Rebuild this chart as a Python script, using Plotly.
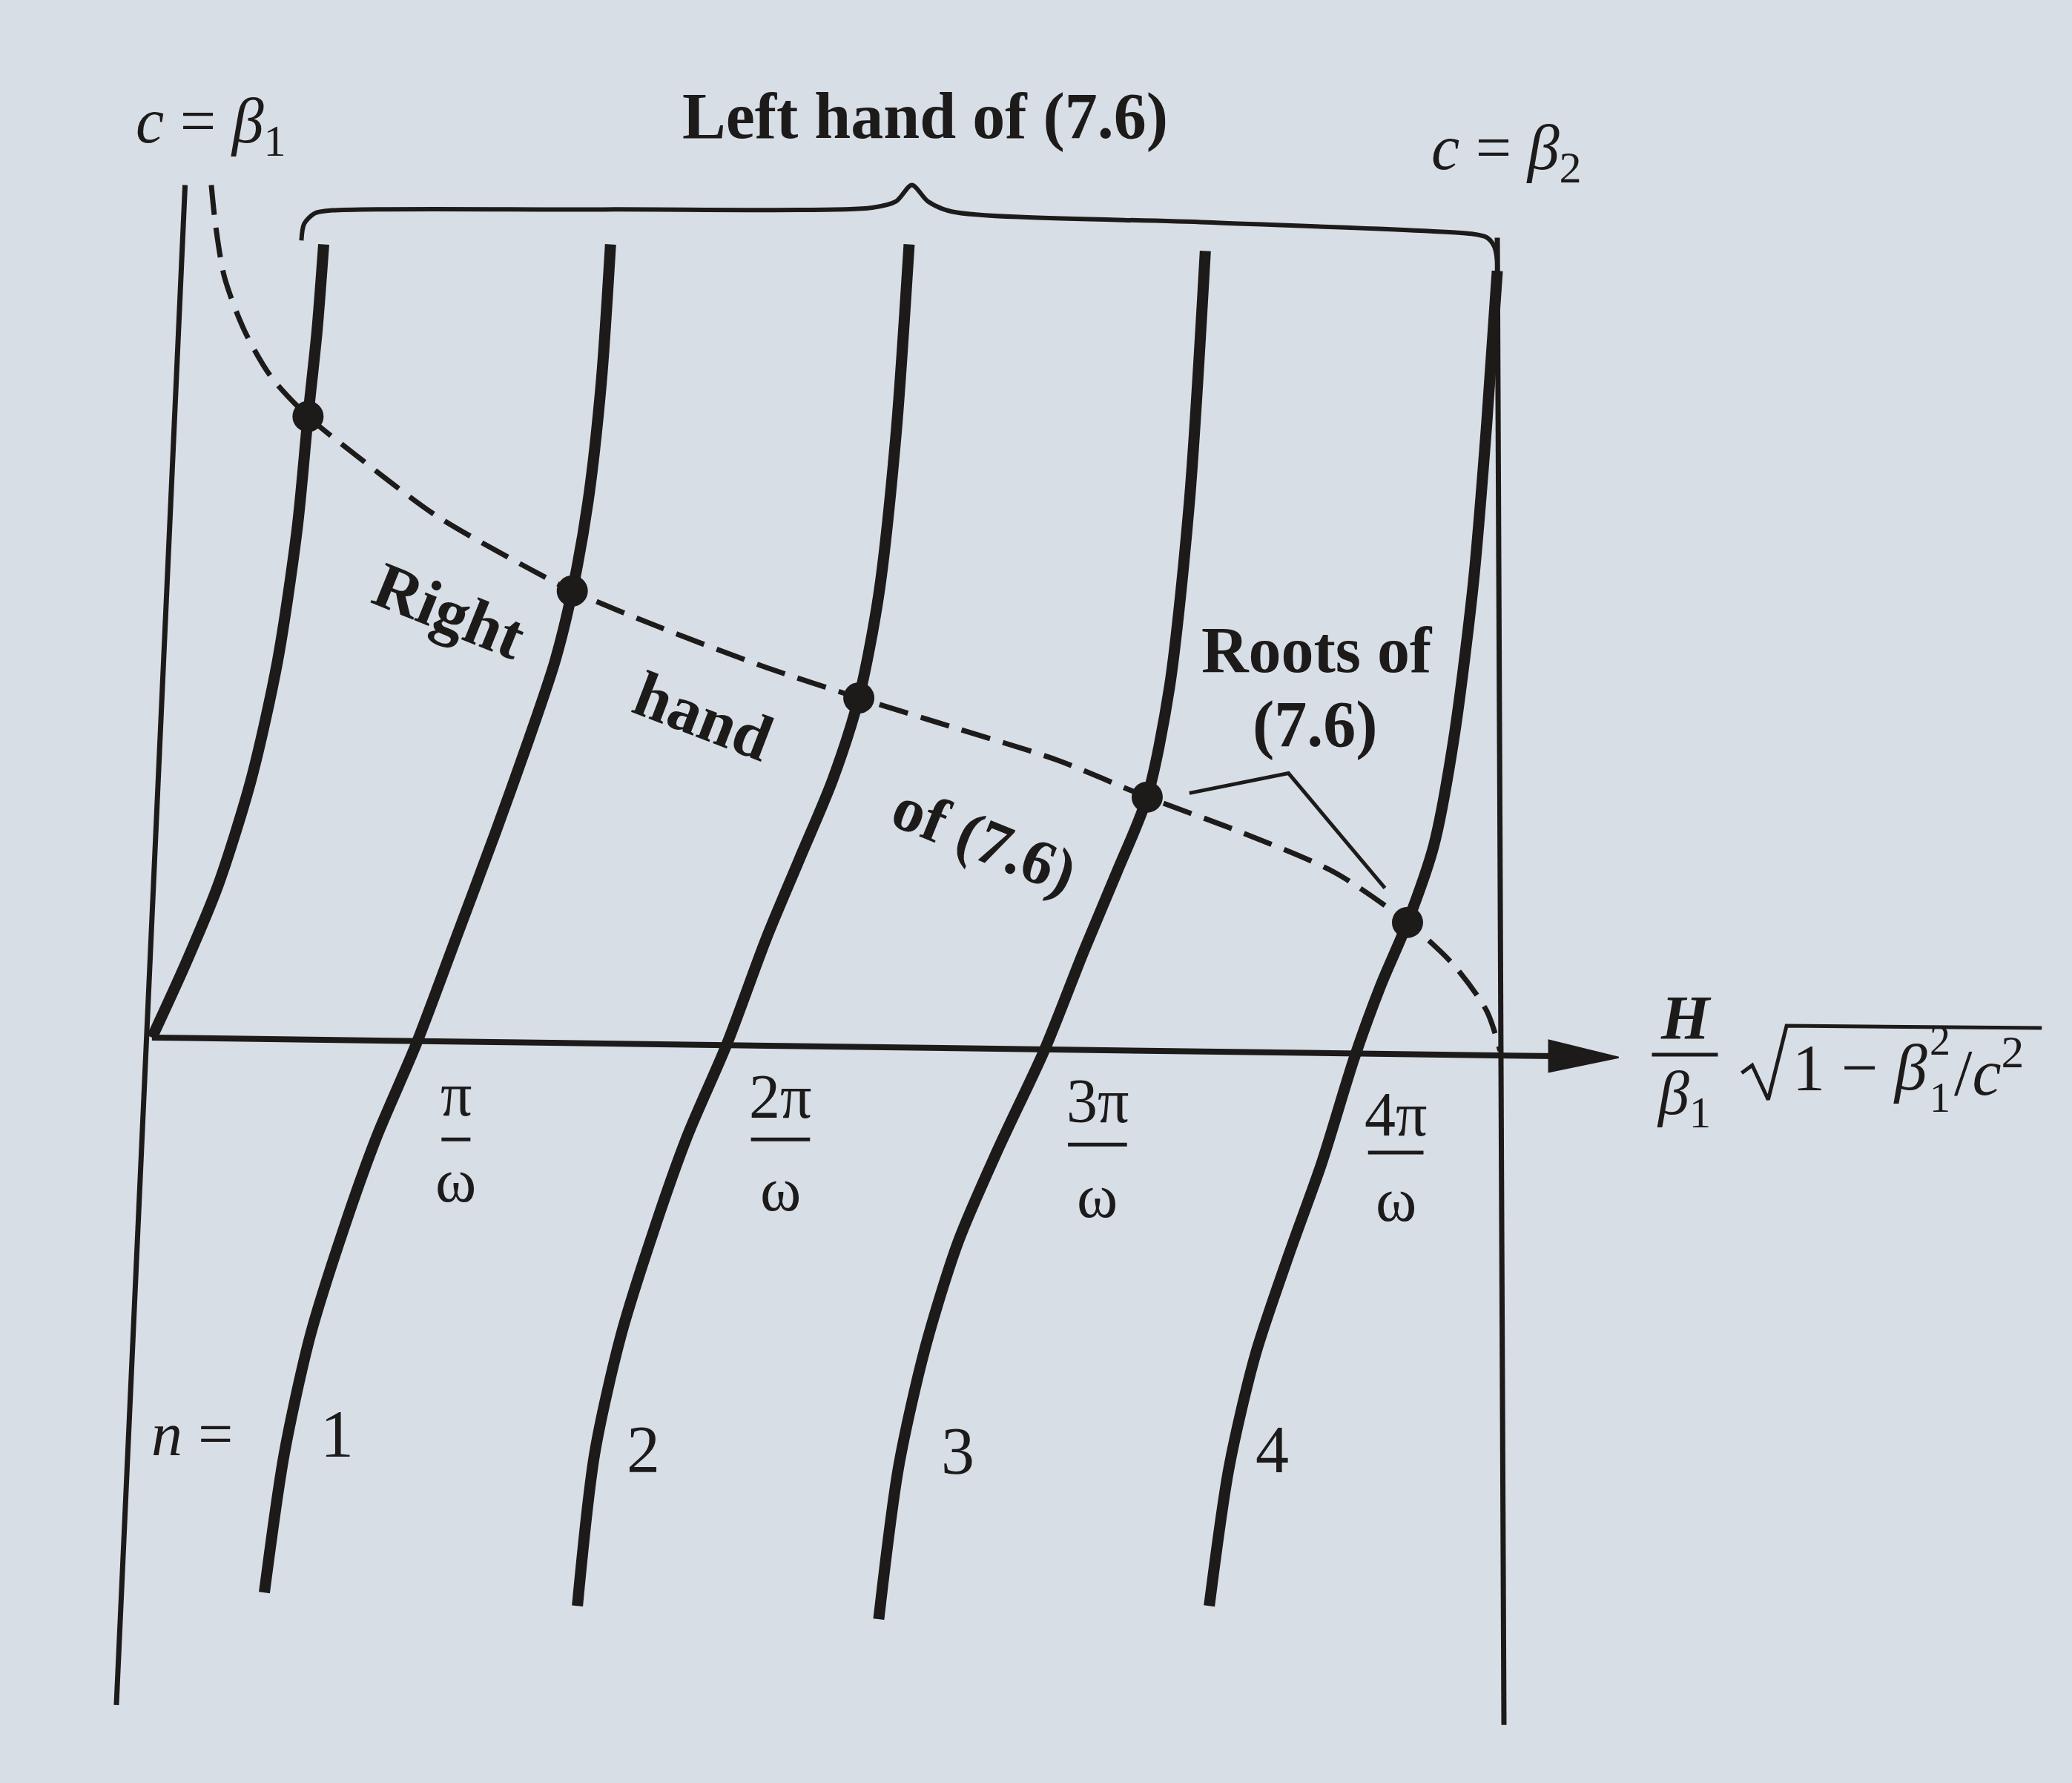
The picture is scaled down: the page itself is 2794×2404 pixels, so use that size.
import plotly.graph_objects as go

# ------------------------------------------------------------------
# Values.
# x is measured in units of pi/omega, y in the same units (axis at y=0).
# ------------------------------------------------------------------
frame_left_x = [0.110, -0.118]
frame_left_y = [2.829, -2.215]
frame_right_x = [4.465, 4.487]
frame_right_y = [2.654, -2.281]

axis_x = [0.0, 4.66]
axis_y = [0.0, -0.062]
arrow_x = [4.868, 4.636, 4.636, 4.868]
arrow_y = [-0.066, -0.009, -0.114, -0.066]

# left hand of (7.6): tangent-like branches
branch0_x = [0.000, 0.110, 0.219, 0.329, 0.417, 0.482, 0.518, 0.548, 0.570]
branch0_y = [0.000, 0.241, 0.504, 0.855, 1.250, 1.689, 2.061, 2.346, 2.632]

branch1_x = [0.373, 0.439, 0.526, 0.636, 0.746, 0.877, 1.009, 1.140, 1.250, 1.338, 1.395, 1.447, 1.491, 1.522]
branch1_y = [-1.842, -1.382, -0.987, -0.636, -0.329, -0.022, 0.329, 0.680, 0.987, 1.250, 1.482, 1.776, 2.171, 2.632]

branch2_x = [1.412, 1.469, 1.557, 1.667, 1.776, 1.908, 2.039, 2.149, 2.259, 2.346, 2.412, 2.469, 2.513]
branch2_y = [-1.886, -1.382, -0.987, -0.636, -0.329, -0.022, 0.329, 0.592, 0.855, 1.127, 1.469, 1.996, 2.632]

branch3_x = [2.412, 2.478, 2.566, 2.675, 2.807, 2.961, 3.092, 3.202, 3.303, 3.377, 3.443, 3.496]
branch3_y = [-1.930, -1.425, -1.031, -0.680, -0.373, -0.044, 0.285, 0.548, 0.798, 1.162, 1.776, 2.610]

branch4_x = [3.509, 3.575, 3.662, 3.772, 3.882, 3.991, 4.079, 4.167, 4.254, 4.320, 4.386, 4.430, 4.465]
branch4_y = [-1.886, -1.425, -1.053, -0.724, -0.417, -0.066, 0.175, 0.382, 0.636, 0.987, 1.513, 2.039, 2.544]

# right hand of (7.6): dashed curve
rhs_x = [0.197, 0.211, 0.241, 0.307, 0.395, 0.518, 0.680, 0.943, 1.250, 1.395, 1.689, 2.039,
         2.346, 2.654, 3.004, 3.303, 3.618, 3.925, 4.167, 4.320, 4.430, 4.474]
rhs_y = [2.829, 2.697, 2.522, 2.346, 2.193, 2.061, 1.930, 1.732, 1.557, 1.482, 1.360, 1.228,
         1.127, 1.031, 0.921, 0.798, 0.680, 0.548, 0.382, 0.241, 0.088, -0.044]

# roots of (7.6)
roots_x = [0.518, 1.395, 2.346, 3.303, 4.167]
roots_y = [2.061, 1.482, 1.127, 0.798, 0.382]

# curly brace over the branches
brace_x = [0.496, 0.505, 0.540, 0.600, 1.500, 2.390, 2.470, 2.522, 2.575, 2.654, 3.500, 4.380, 4.430, 4.455, 4.465]
brace_y = [2.645, 2.700, 2.735, 2.745, 2.748, 2.754, 2.775, 2.829, 2.775, 2.741, 2.705, 2.667, 2.655, 2.625, 2.575]

# pointer lines from "Roots of (7.6)"
pointer_x = [3.443, 3.772, 4.092]
pointer_y = [0.811, 0.877, 0.496]

# tick labels (fractions k*pi / omega)
tick_num = ["π", "2π", "3π", "4π"]
tick_x = [1.009, 2.086, 3.138, 4.128]
tick_num_y = [-0.189, -0.197, -0.211, -0.254]
tick_bar_y = [-0.338, -0.338, -0.355, -0.382]
tick_bar_half = [0.048, 0.098, 0.098, 0.092]
tick_den_y = [-0.474, -0.504, -0.526, -0.539]

# branch numbers
n_labels = ["1", "2", "3", "4"]
n_x = [0.614, 1.632, 2.675, 3.719]
n_y = [-1.316, -1.368, -1.373, -1.368]

# radical sign of the axis label
radical_x = [5.276, 5.311, 5.364, 5.425, 6.272]
radical_y = [-0.118, -0.092, -0.206, 0.039, 0.032]

# ------------------------------------------------------------------
INK = "#1d1a1a"
BG = "#d7dee6"
SERIF = "Liberation Serif, Times New Roman, serif"

fig = go.Figure()


def add_line(x, y, width, shape="linear", dash="solid"):
    fig.add_trace(go.Scatter(
        x=x, y=y, mode="lines",
        line=dict(color=INK, width=width, shape=shape, dash=dash, smoothing=0.8),
        hoverinfo="skip"))


add_line(frame_left_x, frame_left_y, 7)
add_line(frame_right_x, frame_right_y, 7)
add_line(axis_x, axis_y, 8)
fig.add_trace(go.Scatter(x=arrow_x, y=arrow_y, mode="lines", fill="toself",
                         fillcolor=INK, line=dict(color=INK, width=2), hoverinfo="skip"))

for bx, by in [(branch0_x, branch0_y), (branch1_x, branch1_y), (branch2_x, branch2_y),
               (branch3_x, branch3_y), (branch4_x, branch4_y)]:
    add_line(bx, by, 15, shape="spline")

add_line(rhs_x, rhs_y, 7, shape="spline", dash="40px,18px")
add_line(brace_x, brace_y, 6, shape="spline")
add_line(pointer_x, pointer_y, 5)
add_line(radical_x, radical_y, 5)

fig.add_trace(go.Scatter(x=roots_x, y=roots_y, mode="markers",
                         marker=dict(color=INK, size=42, line=dict(width=0)),
                         hoverinfo="skip"))

# fraction bars of the tick labels
bar_x, bar_y = [], []
for cx, cy, hw in zip(tick_x, tick_bar_y, tick_bar_half):
    bar_x += [cx - hw, cx + hw, None]
    bar_y += [cy, cy, None]
# fraction bar of H / beta_1
bar_x += [4.978, 5.197, None]
bar_y += [-0.057, -0.057, None]
add_line(bar_x, bar_y, 5)

annotations = []


def txt(x, y, text, size=88, angle=0, xanchor="center", yanchor="middle"):
    annotations.append(dict(x=x, y=y, text=text, showarrow=False, textangle=angle,
                            xanchor=xanchor, yanchor=yanchor,
                            font=dict(family=SERIF, size=size, color=INK)))


txt(0.197, 3.026, "<i>c</i> = <i>β</i><sub>1</sub>", size=86)
txt(2.566, 3.057, "<b>Left hand of (7.6)</b>", size=88)
txt(4.496, 2.939, "<i>c</i> = <i>β</i><sub>2</sub>", size=86)

txt(0.987, 1.417, "<b>Right</b>", size=88, angle=22)
txt(1.829, 1.066, "<b>hand</b>", size=88, angle=21)
txt(2.763, 0.658, "<b>of (7.6)</b>", size=86, angle=22)
txt(3.868, 1.285, "<b>Roots of</b>", size=88)
txt(3.860, 1.039, "<b>(7.6)</b>", size=88)

for lab, cx, ny, dy in zip(tick_num, tick_x, tick_num_y, tick_den_y):
    txt(cx, ny, lab, size=84)
    txt(cx, dy, "ω", size=84)

txt(0.132, -1.316, "<i>n</i> =", size=84)
for lab, cx, cy in zip(n_labels, n_x, n_y):
    txt(cx, cy, lab, size=90)

# axis label  H/beta_1 * sqrt(1 - beta_1^2 / c^2)
txt(5.090, 0.066, "<b><i>H</i></b>", size=84)
txt(5.085, -0.200, "<i>β</i><sub>1</sub>", size=84)
txt(5.440, -0.100, "1 − <i>β</i>", size=88, xanchor="left")
txt(5.934, -0.010, "2", size=56)
txt(5.934, -0.200, "1", size=56)
txt(5.975, -0.100, "/<i>c</i><sup>2</sup>", size=88, xanchor="left")

fig.update_layout(
    width=2778, height=2388,
    margin=dict(l=0, r=0, t=0, b=0, pad=0),
    paper_bgcolor=BG, plot_bgcolor=BG,
    showlegend=False,
    xaxis=dict(range=[-0.4846, 6.3526], visible=False, fixedrange=True),
    yaxis=dict(range=[-2.4541, 3.4233], visible=False, fixedrange=True),
    annotations=annotations,
)

fig.write_html("out.html", post_script="document.body.style.background='" + BG + "';")
